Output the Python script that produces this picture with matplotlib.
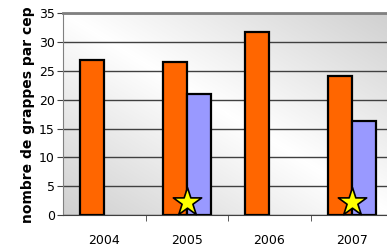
import numpy as np
import matplotlib.pyplot as plt
from matplotlib.colors import LinearSegmentedColormap

years = ["2004", "2005", "2006", "2007"]
orange_vals = [27.0, 26.6, 31.7, 24.1]
blue_vals = [0, 21.0, 0, 16.3]
star_years = [1, 3]
star_vals = [2.3, 2.3]

fig = plt.figure(figsize=(3.87, 2.49), dpi=100)
ax = fig.add_axes([63 / 387, 34 / 249, 330 / 387, 201.5 / 249])

# gradient background
nx, ny = 200, 200
gx, gy = np.meshgrid(np.linspace(0, 1, nx), np.linspace(0, 1, ny))
d = (gx + gy) / 2
shade = 1 - 0.2 * np.abs(d - 0.5) * 2
cmap = LinearSegmentedColormap.from_list("g", ["#b8b8b8", "#ffffff"])
ax.imshow(shade, cmap=cmap, vmin=0.7, vmax=1, origin="lower",
          extent=[0, 1, 0, 1], transform=ax.transAxes, aspect="auto", zorder=0)

x = np.arange(len(years))
w = 0.29
ax.bar(x - w / 2, orange_vals, w, color="#ff6600", edgecolor="black", linewidth=1.6, zorder=3)
ax.bar(x[[1, 3]] + w / 2, [blue_vals[1], blue_vals[3]], w, color="#9999ff",
       edgecolor="black", linewidth=1.6, zorder=3)
ax.scatter([x[i] for i in star_years], star_vals, marker="*", s=460,
           color="#ffff00", edgecolor="black", linewidth=1.2, zorder=4, clip_on=False)

ax.set_xlim(-0.5, 3.5)
ax.set_ylim(0, 35)
ax.set_yticks(range(0, 36, 5))
ax.set_xticks(x)
ax.set_xticklabels(years, fontsize=9)
ax.set_xticks(np.arange(0.5, 3.5, 1), minor=True)
ax.tick_params(axis="x", which="major", length=0, pad=14)
ax.tick_params(axis="x", which="minor", length=4, color="#404040")
ax.tick_params(axis="y", length=4, labelsize=9, color="#404040", pad=2)
ax.grid(axis="y", color="#404040", linewidth=1.0, zorder=1)
ax.set_axisbelow(True)

ax.spines["right"].set_visible(False)
ax.spines["top"].set_color("#808080")
ax.spines["top"].set_linewidth(2)
ax.spines["left"].set_color("#808080")
ax.spines["bottom"].set_color("#404040")

ax.set_ylabel("nombre de grappes par cep", fontsize=10, fontweight="bold", labelpad=3)

fig.savefig("out.png", dpi=100)
